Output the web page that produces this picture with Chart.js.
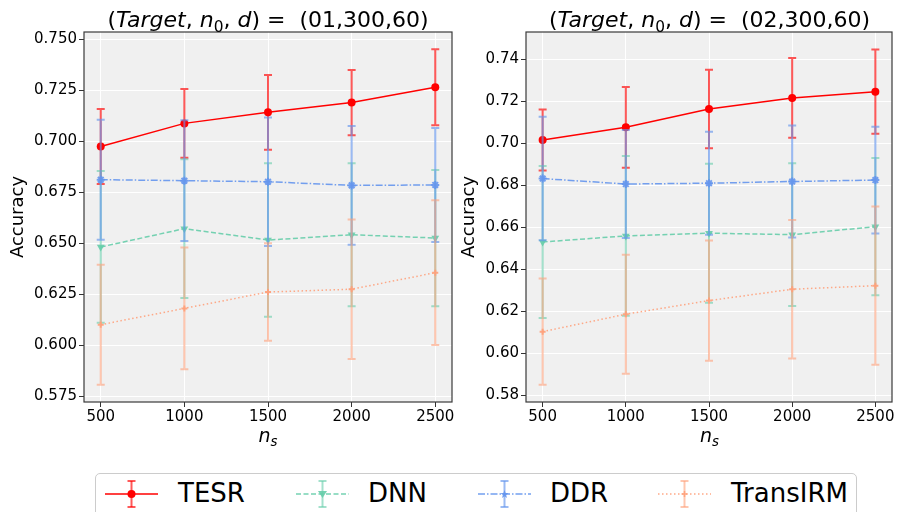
<!DOCTYPE html>
<html>
<head>
<meta charset="utf-8">
<script src="https://cdn.jsdelivr.net/npm/chart.js@4/dist/chart.umd.min.js"></script>
<style>
  body { margin: 0; background: #fff; width: 898px; height: 512px; overflow: hidden; position: relative; font-family: "DejaVu Sans", sans-serif; }
  .wrap { position: absolute; top: 0; height: 445px; }
  .title { position: absolute; top: 6px; font-size: 22px; line-height: 27px; text-align: center; white-space: pre; color: #000; }
  .xlab { position: absolute; top: 424px; font-size: 19px; line-height: 22px; text-align: center; color: #000; }
  sub { font-size: 70%; vertical-align: -0.3em; line-height: 0; }
  i { font-style: oblique; }
  #legend { position: absolute; left: 95px; top: 473px; width: 760px; height: 60px; border: 1px solid #ccc; border-radius: 5px; background: #fff; }
  .licon { position: absolute; top: 6px; }
  .ltext { position: absolute; top: 4px; font-size: 26px; line-height: 30px; color: #000; }
</style>
</head>
<body>
<div class="wrap" style="left:0;width:460px"><canvas id="chart1"></canvas></div>
<div class="wrap" style="left:442px;width:456px"><canvas id="chart2"></canvas></div>

<div class="title" style="left:84px;width:368px">(<i>Target</i>, <i>n</i><sub>0</sub>, <i>d</i>) =  (01,300,60)</div>
<div class="title" style="left:526px;width:367px">(<i>Target</i>, <i>n</i><sub>0</sub>, <i>d</i>) =  (02,300,60)</div>
<div class="xlab" style="left:84px;width:368px"><i>n</i><sub><i>s</i></sub></div>
<div class="xlab" style="left:526px;width:367px"><i>n</i><sub><i>s</i></sub></div>

<div id="legend"></div>

<script>
const nsValues = [500, 1000, 1500, 2000, 2500];
const methods = ["TESR", "DNN", "DDR", "TransIRM"];

// target 01
const tesr01 = [0.6975, 0.7088, 0.7142, 0.7190, 0.7265];
const tesr01Err = [0.0184, 0.0168, 0.0183, 0.0160, 0.0186];
const dnn01 = [0.6482, 0.6572, 0.6516, 0.6542, 0.6526];
const dnn01Err = [0.0372, 0.0340, 0.0376, 0.0351, 0.0334];
const ddr01 = [0.6812, 0.6807, 0.6802, 0.6784, 0.6786];
const ddr01Err = [0.0294, 0.0296, 0.0315, 0.0291, 0.0279];
const trans01 = [0.6101, 0.6181, 0.6261, 0.6275, 0.6356];
const trans01Err = [0.0294, 0.0298, 0.0239, 0.0342, 0.0355];

// target 02
const tesr02 = [0.7016, 0.7076, 0.7163, 0.7216, 0.7246];
const tesr02Err = [0.0145, 0.0192, 0.0187, 0.0190, 0.0201];
const dnn02 = [0.6530, 0.6559, 0.6572, 0.6565, 0.6603];
const dnn02Err = [0.0362, 0.0380, 0.0331, 0.0340, 0.0327];
const ddr02 = [0.6832, 0.6806, 0.6810, 0.6818, 0.6825];
const ddr02Err = [0.0294, 0.0257, 0.0245, 0.0267, 0.0254];
const trans02 = [0.6103, 0.6186, 0.6251, 0.6305, 0.6322];
const trans02Err = [0.0253, 0.0283, 0.0286, 0.0330, 0.0377];

const yTicks01 = [0.575, 0.600, 0.625, 0.650, 0.675, 0.700, 0.725, 0.750];
const yTicks02 = [0.58, 0.60, 0.62, 0.64, 0.66, 0.68, 0.70, 0.72, 0.74];

const styles = [
  { color: "rgb(255,0,0)", err: "rgba(255,0,0,0.65)", dash: [], point: "circle", radius: 4, rot: 0 },
  { color: "rgba(102,205,170,0.9)", err: "rgba(102,205,170,0.6)", dash: [5, 2.5], point: "triangle", radius: 4.5, rot: 180 },
  { color: "rgba(100,149,237,0.9)", err: "rgba(100,149,237,0.65)", dash: [7, 2, 1.5, 2], point: "star", radius: 4, rot: 0 },
  { color: "rgba(255,160,122,0.9)", err: "rgba(255,160,122,0.6)", dash: [1.5, 2.5], point: "cross", radius: 3, rot: 0 }
];

const errorBars = {
  id: "errorBars",
  beforeDatasetDraw(chart, args) {
    const ds = chart.data.datasets[args.index];
    if (!ds.errors) return;
    const xs = chart.scales.x, ys = chart.scales.y, ctx = chart.ctx;
    ctx.save();
    ctx.strokeStyle = ds.errorColor;
    ctx.lineWidth = 2;
    ds.data.forEach((p, i) => {
      const px = xs.getPixelForValue(p.x);
      const top = ys.getPixelForValue(p.y + ds.errors[i]);
      const bot = ys.getPixelForValue(p.y - ds.errors[i]);
      ctx.beginPath();
      ctx.moveTo(px, top); ctx.lineTo(px, bot);
      ctx.moveTo(px - 4, top); ctx.lineTo(px + 4, top);
      ctx.moveTo(px - 4, bot); ctx.lineTo(px + 4, bot);
      ctx.stroke();
    });
    ctx.restore();
  }
};

const panel = {
  id: "panel",
  beforeDraw(chart) {
    const a = chart.chartArea, ctx = chart.ctx;
    ctx.save();
    ctx.fillStyle = "#f0f0f0";
    ctx.fillRect(a.left, a.top, a.right - a.left, a.bottom - a.top);
    ctx.restore();
  },
  afterDraw(chart) {
    const a = chart.chartArea, ctx = chart.ctx;
    ctx.save();
    ctx.strokeStyle = "#3a3a3a";
    ctx.lineWidth = 1.2;
    ctx.strokeRect(a.left, a.top, a.right - a.left, a.bottom - a.top);
    ctx.restore();
  }
};

function makeChart(id, series, errs, yMin, yMax, yTicks, digits, rightPad, titlePad) {
  const datasets = series.map((vals, k) => ({
    label: methods[k],
    data: nsValues.map((x, i) => ({ x: x, y: vals[i] })),
    errors: errs[k],
    errorColor: styles[k].err,
    borderColor: styles[k].color,
    backgroundColor: styles[k].color,
    borderWidth: 1.5,
    borderDash: styles[k].dash,
    pointStyle: styles[k].point,
    pointRadius: styles[k].radius,
    pointRotation: styles[k].rot,
    pointBorderWidth: k === 0 || k === 1 ? 0 : 2,
    pointBorderColor: styles[k].color,
    pointBackgroundColor: styles[k].color,
    tension: 0,
    order: 4 - k
  }));

  return new Chart(document.getElementById(id), {
    type: "line",
    data: { datasets: datasets },
    plugins: [panel, errorBars],
    options: {
      responsive: true,
      maintainAspectRatio: false,
      animation: false,
      layout: { padding: { top: 32, right: rightPad, left: 0, bottom: 0 } },
      plugins: { legend: { display: false }, tooltip: { enabled: false } },
      scales: {
        x: {
          type: "linear",
          min: 400,
          max: 2600,
          afterBuildTicks: s => { s.ticks = nsValues.map(v => ({ value: v })); },
          afterFit: s => { s.height = 43; },
          grid: { color: "#ffffff", lineWidth: 1, tickColor: "#333", tickLength: 5 },
          border: { display: false },
          ticks: { font: { family: "DejaVu Sans", size: 15 }, color: "#000", padding: 1, maxRotation: 0, callback: v => String(v) }
        },
        y: {
          min: yMin,
          max: yMax,
          afterBuildTicks: s => { s.ticks = yTicks.map(v => ({ value: v })); },
          afterFit: s => { s.width = 84; },
          grid: { color: "#ffffff", lineWidth: 1, tickColor: "#333", tickLength: 5 },
          border: { display: false },
          title: { display: true, text: "Accuracy", font: { family: "DejaVu Sans", size: 18 }, color: "#000", padding: { top: titlePad, bottom: 0 } },
          ticks: { font: { family: "DejaVu Sans", size: 15 }, color: "#000", padding: 2, callback: v => v.toFixed(digits) }
        }
      }
    }
  });
}

makeChart("chart1", [tesr01, dnn01, ddr01, trans01], [tesr01Err, dnn01Err, ddr01Err, trans01Err],
  0.5722, 0.7536, yTicks01, 3, 8, 8);
makeChart("chart2", [tesr02, dnn02, ddr02, trans02], [tesr02Err, dnn02Err, ddr02Err, trans02Err],
  0.5768, 0.7530, yTicks02, 2, 5, 17);

// legend
const iconLeft = [9, 200, 382, 562];
const textLeft = [82, 272, 454, 635];
const markers = [
  c => `<circle cx="26.5" cy="14" r="4" fill="${c}"/>`,
  c => `<polygon points="22,11 31,11 26.5,18" fill="${c}"/>`,
  c => `<polygon points="26.5,10 27.6,13 30.5,13 28.2,15 29,18 26.5,16.2 24,18 24.8,15 22.5,13 25.4,13" fill="${c}"/>`,
  c => `<path d="M23.5 14 H29.5 M26.5 11 V17" stroke="${c}" stroke-width="1.5"/>`
];
const legend = document.getElementById("legend");
methods.forEach((m, k) => {
  const s = styles[k];
  const dash = s.dash.length ? `stroke-dasharray="${s.dash.join(",")}"` : "";
  legend.insertAdjacentHTML("beforeend",
    `<svg class="licon" style="left:${iconLeft[k]}px" width="53" height="28">
      <line x1="26.5" y1="1" x2="26.5" y2="27" stroke="${s.err}" stroke-width="2"/>
      <line x1="22.5" y1="1" x2="30.5" y2="1" stroke="${s.err}" stroke-width="2"/>
      <line x1="22.5" y1="27" x2="30.5" y2="27" stroke="${s.err}" stroke-width="2"/>
      <line x1="0" y1="14" x2="53" y2="14" stroke="${s.color}" stroke-width="1.5" ${dash}/>
      ${markers[k](s.color)}
    </svg>
    <div class="ltext" style="left:${textLeft[k]}px">${m}</div>`);
});
</script>
</body>
</html>
